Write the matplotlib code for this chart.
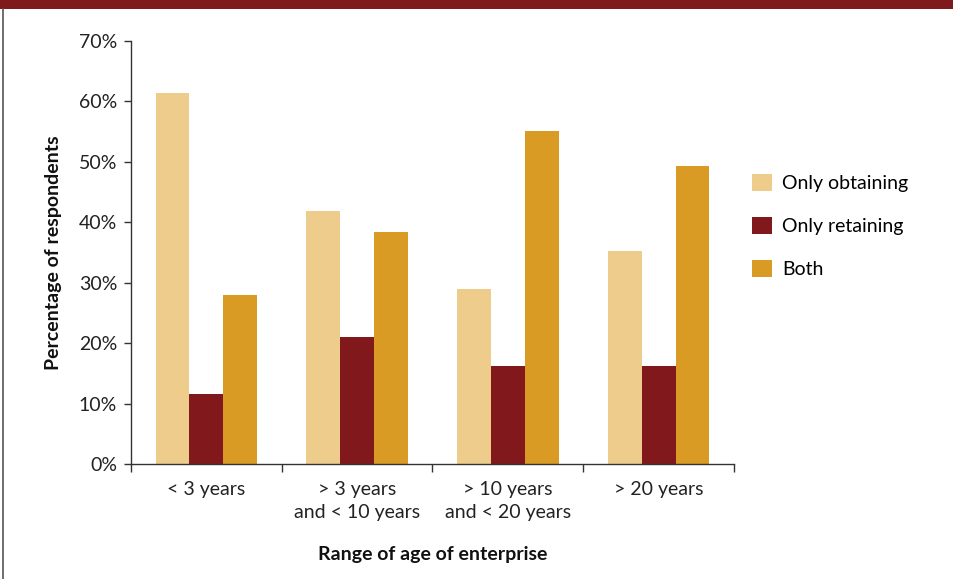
import numpy as np
import matplotlib
matplotlib.use("Agg")
import matplotlib.pyplot as plt
from matplotlib.patches import Rectangle
from matplotlib.lines import Line2D

plt.rcParams['font.family'] = ['Lato', 'DejaVu Sans']

categories = ["< 3 years", "> 3 years\nand < 10 years", "> 10 years\nand < 20 years", "> 20 years"]
only_obtaining = [61.4, 41.9, 29.0, 35.3]
only_retaining = [11.6, 21.0, 16.2, 16.2]
both = [28.0, 38.4, 55.0, 49.3]
series_names = ["Only obtaining", "Only retaining", "Both"]
colors = ["#EDCC8C", "#81191C", "#DA9B25"]

fig = plt.figure(figsize=(9.54, 5.79), dpi=100)
ax = fig.add_axes([131 / 954, 1 - 464.2 / 579, (734 - 131) / 954, (464.2 - 40.7) / 579])

x = np.arange(len(categories))
w = 0.224
for i, (vals, name, c) in enumerate(zip([only_obtaining, only_retaining, both], series_names, colors)):
    ax.bar(x + (i - 1) * w, vals, width=w, color=c, label=name, linewidth=0)

ax.set_xlim(-0.5, len(categories) - 0.5)
ax.set_ylim(0, 70)
ax.set_yticks(np.arange(0, 71, 10))
ax.set_yticklabels([f"{v}%" for v in range(0, 71, 10)])
ax.set_xticks(x)
ax.set_xticklabels(categories, linespacing=1.42)
ax.set_xticks(np.arange(-0.5, len(categories)), minor=True)
ax.tick_params(axis='x', which='major', length=0, pad=12, labelsize=14, colors='#222222')
ax.tick_params(axis='x', which='minor', length=6, width=1, direction='out', color='#333333')
ax.tick_params(axis='y', length=5, width=1, direction='out', pad=5, labelsize=14,
               colors='#222222', color='#333333')

for s in ['top', 'right']:
    ax.spines[s].set_visible(False)
for s in ['left', 'bottom']:
    ax.spines[s].set_color('#333333')
    ax.spines[s].set_linewidth(1)

ax.set_ylabel("Percentage of respondents", fontsize=14, fontweight='bold', labelpad=12, color='#111111')
ax.set_xlabel("Range of age of enterprise", fontsize=14, fontweight='bold', labelpad=18, color='#111111')

leg = ax.legend(loc='upper left', bbox_to_anchor=(1.03, 0.686), frameon=False, fontsize=14,
                borderpad=0, borderaxespad=0,
                handlelength=1.0, handleheight=1.0, labelspacing=1.27, handletextpad=0.55)

# header bar and left frame line
fig.add_artist(Rectangle((0, 1 - 9 / 579), 1, 9 / 579, transform=fig.transFigure,
                         color="#7F1A1C", linewidth=0))
fig.add_artist(Line2D([3.5 / 954, 3.5 / 954], [0, 1 - 9 / 579], transform=fig.transFigure,
                      color="#555555", linewidth=1.2))

fig.savefig("out.png", dpi=100)
